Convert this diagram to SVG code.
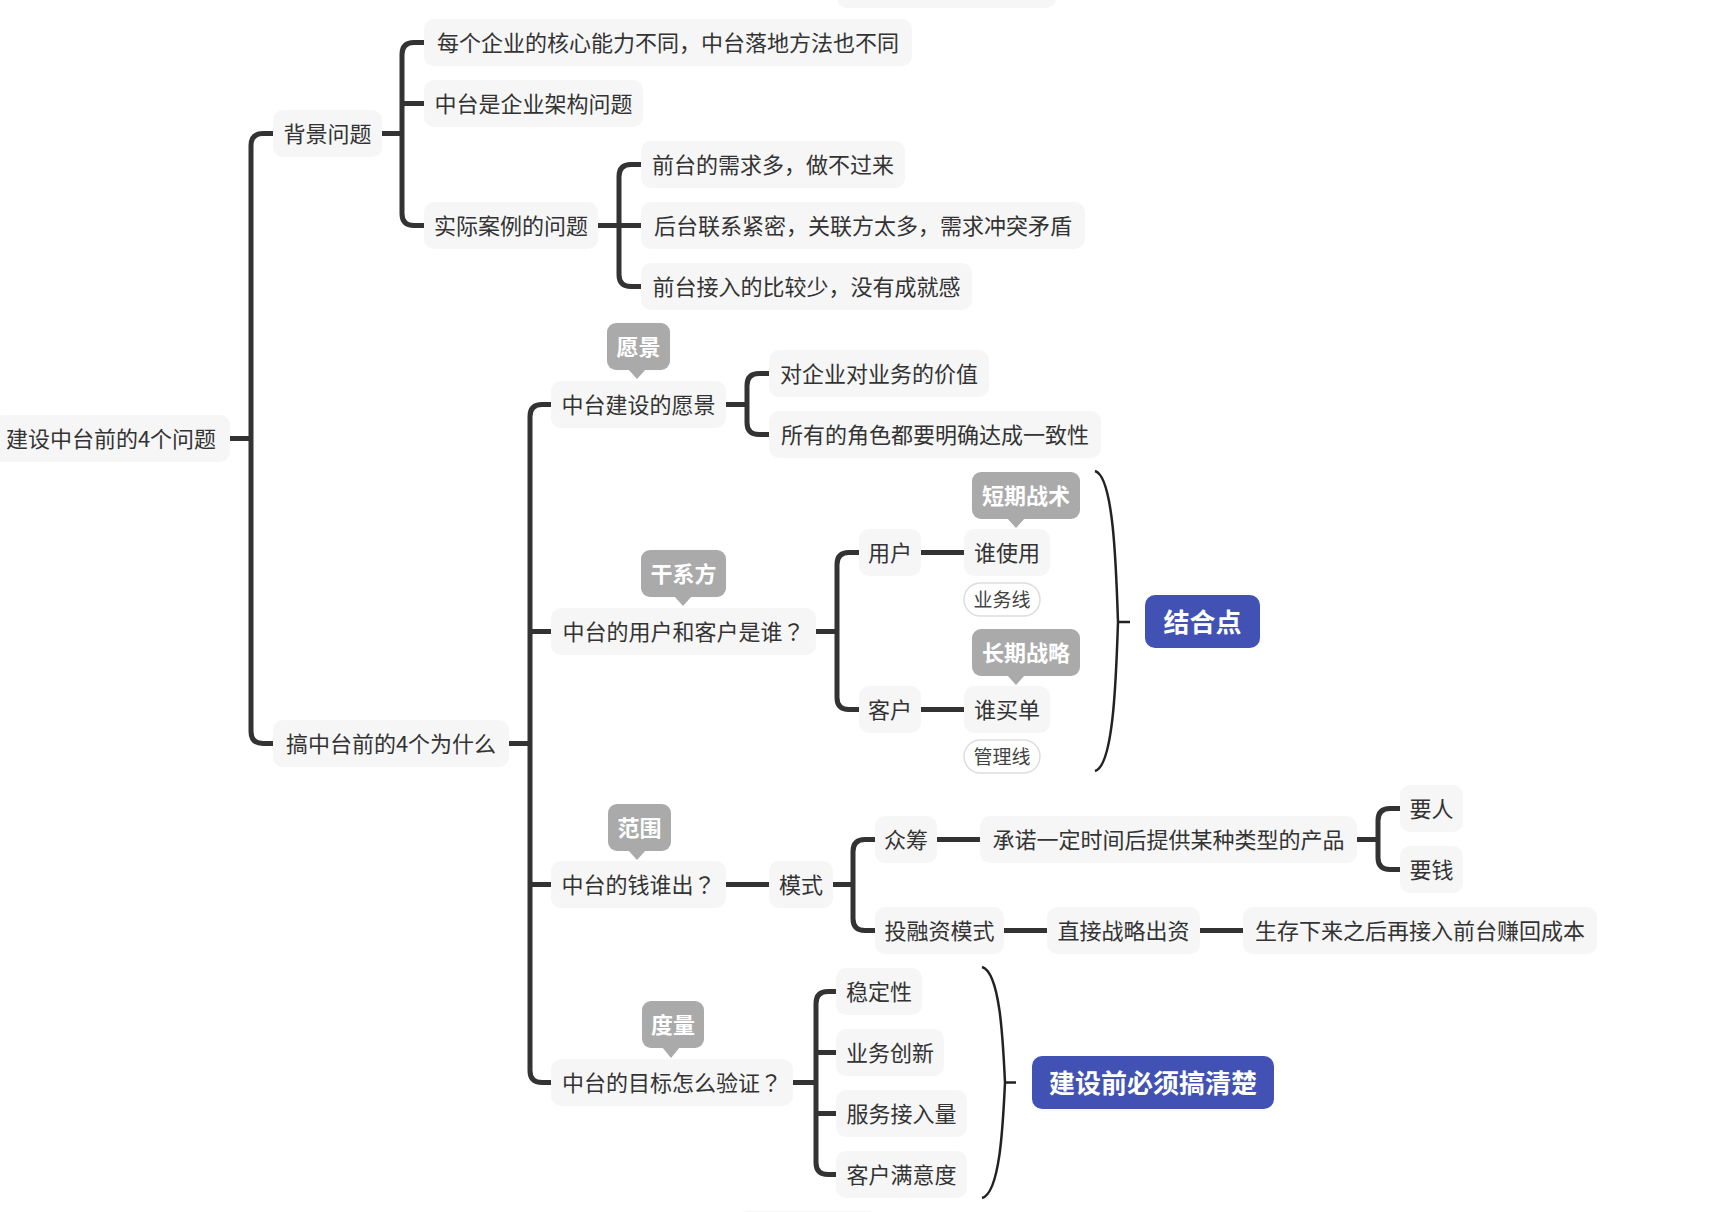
<svg xmlns="http://www.w3.org/2000/svg" width="1732" height="1212" viewBox="0 0 1732 1212">
<style>
.n rect{fill:#f6f6f6}
.n text,.t{font-family:"Noto Sans CJK SC","Noto Sans",sans-serif;font-size:22px;fill:#333;text-anchor:middle}
.p{font-family:"Noto Sans CJK TC","Noto Sans CJK SC",sans-serif}
.co rect,.co polygon{fill:#aaaaaa}
.co text{font-family:"Noto Sans CJK SC","Noto Sans",sans-serif;font-size:22px;font-weight:bold;fill:#fff;text-anchor:middle}
.bl rect{fill:#4152b4}
.bl text{font-family:"Noto Sans CJK SC","Noto Sans",sans-serif;font-size:26px;font-weight:bold;fill:#fff;text-anchor:middle}
.lb rect{fill:#fff;stroke:#dddddd;stroke-width:1.5}
.lb text{font-family:"Noto Sans CJK SC","Noto Sans",sans-serif;font-size:19px;fill:#444;text-anchor:middle}
.ln path{fill:none;stroke:#333;stroke-width:5}
.br path{fill:none;stroke:#222;stroke-width:2.5}
.pt rect{fill:#f6f6f6}
</style>

<g class="pt">
<rect x="837" y="-40" width="219" height="48" rx="10"/>
<rect x="737" y="1211" width="141" height="47" rx="10"/>
</g>

<g id="connectors" class="ln">
<path d="M230,438.5 H251"/>
<path d="M273,133.5 H263 Q251,133.5 251,145.5 V731.5 Q251,743.5 263,743.5 H273"/>
<path d="M382,133.5 H402"/>
<path d="M424,42.5 H414 Q402,42.5 402,54.5 V213.5 Q402,225.5 414,225.5 H424"/>
<path d="M402,103.5 H424"/>
<path d="M598,225.5 H641"/>
<path d="M641,164.5 H631 Q619,164.5 619,176.5 V274.5 Q619,286.5 631,286.5 H641"/>
<path d="M509,743.5 H530"/>
<path d="M551,404.5 H542 Q530,404.5 530,416.5 V1070.5 Q530,1082.5 542,1082.5 H551"/>
<path d="M530,631.5 H551"/>
<path d="M530,884.5 H551"/>
<path d="M726,404.5 H747"/>
<path d="M769,373.5 H759 Q747,373.5 747,385.5 V422.5 Q747,434.5 759,434.5 H769"/>
<path d="M816,631.5 H837"/>
<path d="M859,552.5 H849 Q837,552.5 837,564.5 V697.5 Q837,709.5 849,709.5 H859"/>
<path d="M921,552.5 H964"/>
<path d="M921,709.5 H964"/>
<path d="M726,884.5 H769"/>
<path d="M833,884.5 H853"/>
<path d="M875,839.5 H865 Q853,839.5 853,851.5 V918.5 Q853,930.5 865,930.5 H875"/>
<path d="M937,839.5 H980"/>
<path d="M1357,839.5 H1378"/>
<path d="M1400,808.5 H1390 Q1378,808.5 1378,820.5 V857.5 Q1378,869.5 1390,869.5 H1400"/>
<path d="M1004,930.5 H1047"/>
<path d="M1200,930.5 H1243"/>
<path d="M793,1082.5 H816"/>
<path d="M836,991.5 H828 Q816,991.5 816,1003.5 V1162.5 Q816,1174.5 828,1174.5 H836"/>
<path d="M816,1052.5 H836"/>
<path d="M816,1113.5 H836"/>
</g>

<g id="braces" class="br">
<path d="M1095,471 C1113,476 1116,560 1118,622 C1116,684 1113,766 1095,771"/>
<path d="M1118,622 H1130"/>
<path d="M982,967 C1000,972 1003,1040 1005,1082.5 C1003,1125 1000,1193 982,1198"/>
<path d="M1005,1082.5 H1016"/>
</g>

<g id="root" class="n"><rect x="-8" y="415" width="238" height="47" rx="10"/><text x="111" y="446.5">建设中台前的4个问题</text></g>
<g id="bg" class="n"><rect x="273" y="110" width="109" height="47" rx="10"/><text x="327.5" y="141.5">背景问题</text></g>
<g id="why" class="n"><rect x="273" y="720" width="236" height="47" rx="10"/><text x="391" y="751.5">搞中台前的4个为什么</text></g>

<g id="bg1" class="n"><rect x="424" y="19" width="488" height="47" rx="10"/><text x="668" y="50.5">每个企业的核心能力不同，中台落地方法也不同</text></g>
<g id="bg2" class="n"><rect x="424" y="80" width="219" height="47" rx="10"/><text x="533.5" y="111.5">中台是企业架构问题</text></g>
<g id="bg3" class="n"><rect x="424" y="202" width="174" height="47" rx="10"/><text x="511" y="233.5">实际案例的问题</text></g>
<g id="bg31" class="n"><rect x="641" y="141" width="264" height="47" rx="10"/><text x="773" y="172.5">前台的需求多，做不过来</text></g>
<g id="bg32" class="n"><rect x="641" y="202" width="444" height="47" rx="10"/><text x="863" y="233.5">后台联系紧密，关联方太多，需求冲突矛盾</text></g>
<g id="bg33" class="n"><rect x="641" y="263" width="331" height="47" rx="10"/><text x="806.5" y="294.5">前台接入的比较少，没有成就感</text></g>

<g id="w1" class="n"><rect x="551" y="381" width="175" height="47" rx="10"/><text x="638.5" y="412.5">中台建设的愿景</text></g>
<g id="w1c" class="co"><rect x="607" y="323" width="63" height="47" rx="9"/><polygon points="628,369 646,369 637,379"/><text x="638.5" y="354.5">愿景</text></g>
<g id="w11" class="n"><rect x="769" y="350" width="220" height="47" rx="10"/><text x="879" y="381.5">对企业对业务的价值</text></g>
<g id="w12" class="n"><rect x="769" y="411" width="332" height="47" rx="10"/><text x="935" y="442.5">所有的角色都要明确达成一致性</text></g>

<g id="w2" class="n"><rect x="551" y="608" width="265" height="47" rx="10"/><text x="683.5" y="639.5">中台的用户和客户是谁<tspan class="p">？</tspan></text></g>
<g id="w2c" class="co"><rect x="641" y="550" width="85" height="47" rx="9"/><polygon points="674,596 692,596 683,606"/><text x="683.5" y="581.5">干系方</text></g>
<g id="u" class="n"><rect x="859" y="529" width="62" height="47" rx="10"/><text x="890" y="560.5">用户</text></g>
<g id="u1" class="n"><rect x="964" y="529" width="86" height="47" rx="10"/><text x="1007" y="560.5">谁使用</text></g>
<g id="u1c" class="co"><rect x="972" y="472" width="108" height="47" rx="9"/><polygon points="1007,518 1025,518 1016,528"/><text x="1026" y="503.5">短期战术</text></g>
<g id="u1l" class="lb"><rect x="964" y="583" width="76" height="33" rx="16.5"/><text x="1002" y="606.5">业务线</text></g>
<g id="k" class="n"><rect x="859" y="686" width="62" height="47" rx="10"/><text x="890" y="717.5">客户</text></g>
<g id="k1" class="n"><rect x="964" y="686" width="86" height="47" rx="10"/><text x="1007" y="717.5">谁买单</text></g>
<g id="k1c" class="co"><rect x="972" y="629" width="108" height="47" rx="9"/><polygon points="1007,675 1025,675 1016,685"/><text x="1026" y="660.5">长期战略</text></g>
<g id="k1l" class="lb"><rect x="964" y="740" width="76" height="33" rx="16.5"/><text x="1002" y="763.5">管理线</text></g>
<g id="s1" class="bl"><rect x="1145" y="595" width="115" height="53" rx="10"/><text x="1202.5" y="631.5">结合点</text></g>

<g id="w3" class="n"><rect x="551" y="861" width="175" height="47" rx="10"/><text x="638.5" y="892.5">中台的钱谁出<tspan class="p">？</tspan></text></g>
<g id="w3c" class="co"><rect x="608" y="804" width="63" height="47" rx="9"/><polygon points="628,850 646,850 637,860"/><text x="639.5" y="835.5">范围</text></g>
<g id="m" class="n"><rect x="769" y="861" width="64" height="47" rx="10"/><text x="801" y="892.5">模式</text></g>
<g id="zc" class="n"><rect x="875" y="816" width="62" height="47" rx="10"/><text x="906" y="847.5">众筹</text></g>
<g id="zc1" class="n"><rect x="980" y="816" width="377" height="47" rx="10"/><text x="1168.5" y="847.5">承诺一定时间后提供某种类型的产品</text></g>
<g id="yr" class="n"><rect x="1400" y="785" width="63" height="47" rx="10"/><text x="1431.5" y="816.5">要人</text></g>
<g id="yq" class="n"><rect x="1400" y="846" width="63" height="47" rx="10"/><text x="1431.5" y="877.5">要钱</text></g>
<g id="tr" class="n"><rect x="875" y="907" width="129" height="47" rx="10"/><text x="939.5" y="938.5">投融资模式</text></g>
<g id="tr1" class="n"><rect x="1047" y="907" width="153" height="47" rx="10"/><text x="1123.5" y="938.5">直接战略出资</text></g>
<g id="tr2" class="n"><rect x="1243" y="907" width="354" height="47" rx="10"/><text x="1420" y="938.5">生存下来之后再接入前台赚回成本</text></g>

<g id="w4" class="n"><rect x="551" y="1059" width="242" height="47" rx="10"/><text x="672" y="1090.5">中台的目标怎么验证<tspan class="p">？</tspan></text></g>
<g id="w4c" class="co"><rect x="642" y="1001" width="62" height="47" rx="9"/><polygon points="662,1047 680,1047 671,1058"/><text x="673" y="1032.5">度量</text></g>
<g id="g1" class="n"><rect x="836" y="968" width="86" height="47" rx="10"/><text x="879" y="999.5">稳定性</text></g>
<g id="g2" class="n"><rect x="836" y="1029" width="108" height="47" rx="10"/><text x="890" y="1060.5">业务创新</text></g>
<g id="g3" class="n"><rect x="836" y="1090" width="131" height="47" rx="10"/><text x="901.5" y="1121.5">服务接入量</text></g>
<g id="g4" class="n"><rect x="836" y="1151" width="131" height="47" rx="10"/><text x="901.5" y="1182.5">客户满意度</text></g>
<g id="s2" class="bl"><rect x="1032" y="1056" width="242" height="53" rx="10"/><text x="1153" y="1092.5">建设前必须搞清楚</text></g>
</svg>
